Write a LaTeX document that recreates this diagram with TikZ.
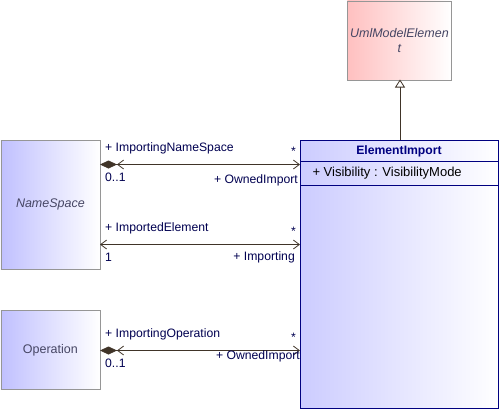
\documentclass[tikz,border=0pt]{standalone}
\usepackage{fontspec}
\setmainfont{Liberation Sans}
\usetikzlibrary{arrows.meta,calc}
\definecolor{blueL}{RGB}{192,192,255}
\definecolor{blueE}{RGB}{204,204,255}
\definecolor{pinkL}{RGB}{255,192,192}
\definecolor{grayB}{RGB}{150,150,150}
\definecolor{navy}{RGB}{0,0,128}
\definecolor{lineC}{RGB}{64,52,40}
\definecolor{txtC}{RGB}{0,0,80}
\definecolor{nameC}{RGB}{70,70,100}
\begin{document}
\begin{tikzpicture}[x=1pt,y=-1pt,
  cls/.style={draw=grayB,line width=0.8pt,left color=blueL,right color=white,inner sep=0pt,anchor=north west,font=\fontsize{12.5}{14}\selectfont,text=nameC},
  lab/.style={font=\fontsize{12.2}{14}\selectfont,text=txtC,inner sep=0pt},
  assoc/.style={draw=lineC,line width=0.8pt},
  comp/.style={assoc,{Diamond[fill=lineC,length=17pt,width=8pt] Straight Barb[length=6pt,width=9pt,line width=0.8pt,sep=0pt]}-{Straight Barb[length=6pt,width=9pt,line width=0.8pt]}},
  nav/.style={assoc,{Straight Barb[length=6pt,width=9pt,line width=0.8pt]}-{Straight Barb[length=6pt,width=9pt,line width=0.8pt]}}
]
\useasboundingbox (0,0) rectangle (500,410);
% UmlModelElement
\node[cls,left color=pinkL,minimum width=104pt,minimum height=79pt,align=center,text width=100pt,font=\fontsize{12.5}{15}\selectfont\itshape] (uml) at (347,0.5) {UmlModelElemen\\t};
% NameSpace
\node[cls,minimum width=99pt,minimum height=129pt,font=\fontsize{12.5}{14}\selectfont\itshape] (ns) at (0.5,140) {NameSpace};
% Operation
\node[cls,minimum width=99pt,minimum height=79pt] (op) at (0.5,310) {Operation};
% ElementImport
\node[draw=navy,line width=1.2pt,left color=blueE,right color=white,minimum width=198pt,minimum height=268pt,anchor=north west,inner sep=0pt] (ei) at (300,140) {};
\draw[navy,line width=0.8pt] (300,161) -- (498,161) (300,185) -- (498,185);
\node[font=\fontsize{12.2}{14}\selectfont\bfseries,text=navy] (eititle) at (399,151) {ElementImport};
\node[font=\fontsize{13}{15}\selectfont,text=black,anchor=west] (eiattr) at (309,173) {+ Visibility : VisibilityMode};
% generalization
\coordinate (gtop) at (400,79.5);
\draw[assoc,-{Triangle[open,length=8pt,width=10pt,line width=0.8pt,fill=white]}] (400,140) -- (gtop);
% associations
\coordinate (a1) at (100,164.5);
\coordinate (b1) at (300,164.5);
\draw[comp] (a1) -- (b1);
\coordinate (a2) at (100,244.5);
\coordinate (b2) at (300,244.5);
\draw[nav] (a2) -- (b2);
\coordinate (a3) at (100,350.5);
\coordinate (b3) at (300,350.5);
\draw[comp] (a3) -- (b3);
% labels
\node[lab,anchor=west] (l1a) at (105,148) {+ ImportingNameSpace};
\node[lab,anchor=east] (l1b) at (296,151) {*};
\node[lab,anchor=west] (l1c) at (105,177) {0..1};
\node[lab,anchor=east] (l1d) at (298,180) {+ OwnedImport};
\node[lab,anchor=west] (l2a) at (105,228) {+ ImportedElement};
\node[lab,anchor=east] (l2b) at (296,231) {*};
\node[lab,anchor=west] (l2c) at (105,257) {1};
\node[lab,anchor=east] (l2d) at (295,257) {+ Importing};
\node[lab,anchor=west] (l3a) at (105,334) {+ ImportingOperation};
\node[lab,anchor=east] (l3b) at (296,337) {*};
\node[lab,anchor=west] (l3c) at (105,363) {0..1};
\node[lab,anchor=east] (l3d) at (300,356) {+ OwnedImport};
\end{tikzpicture}
\end{document}
